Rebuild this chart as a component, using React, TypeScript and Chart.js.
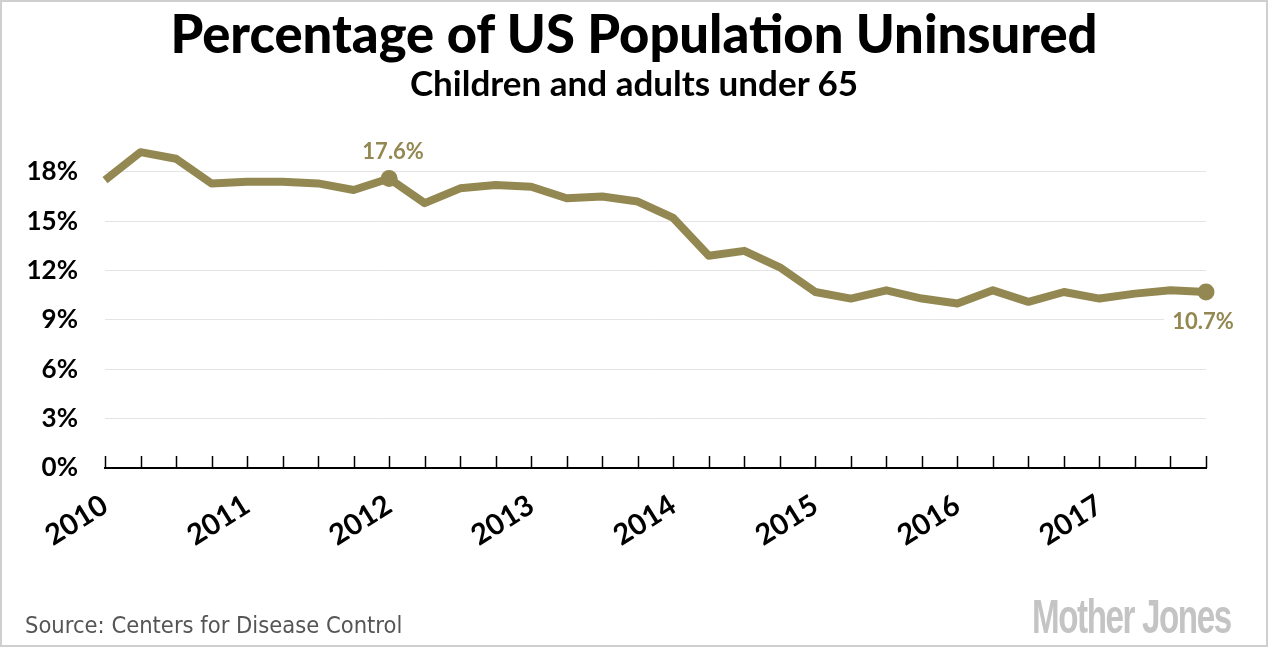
import React, { useEffect, useRef } from "react";
import { Chart, registerables } from "chart.js";

Chart.register(...registerables);

const years = ["2010", "2011", "2012", "2013", "2014", "2015", "2016", "2017"];
const quarters = ["Q1", "Q2", "Q3", "Q4"];
const uninsuredPct = [
  17.5, 19.2, 18.8, 17.3, 17.4, 17.4, 17.3, 16.9,
  17.6, 16.1, 17.0, 17.2, 17.1, 16.4, 16.5, 16.2,
  15.2, 12.9, 13.2, 12.2, 10.7, 10.3, 10.8, 10.3,
  10.0, 10.8, 10.1, 10.7, 10.3, 10.6, 10.8, 10.7,
];
const yTicks = [0, 3, 6, 9, 12, 15, 18];
const highlighted = [8, 31];

const OLIVE = "#938851";

const quarterLabels: string[] = [];
years.forEach((y) => quarters.forEach((q) => quarterLabels.push(`${y} ${q}`)));

export default function App() {
  const ref = useRef<HTMLCanvasElement | null>(null);

  useEffect(() => {
    if (!ref.current) return;

    const tickMarks = {
      id: "tickMarks",
      afterDraw(chart: any) {
        const { ctx, chartArea } = chart;
        const xs = chart.scales.x;
        ctx.save();
        ctx.strokeStyle = "#000";
        ctx.lineWidth = 1.5;
        xs.ticks.forEach((_: any, i: number) => {
          const x = Math.round(xs.getPixelForTick(i)) + 0.5;
          ctx.beginPath();
          ctx.moveTo(x, chartArea.bottom);
          ctx.lineTo(x, chartArea.bottom - 12);
          ctx.stroke();
        });
        ctx.restore();
      },
    };

    const valueLabels = {
      id: "valueLabels",
      afterDatasetsDraw(chart: any) {
        const { ctx } = chart;
        const meta = chart.getDatasetMeta(0);
        ctx.save();
        ctx.font = "bold 22px Lato";
        ctx.textAlign = "center";
        ctx.textBaseline = "middle";
        highlighted.forEach((idx, k) => {
          const pt = meta.data[idx];
          const text = `${uninsuredPct[idx].toFixed(1)}%`;
          const above = k === 0;
          const y = above ? pt.y - 27 : pt.y + 30;
          const x = above ? pt.x + 4 : pt.x - 3;
          const w = ctx.measureText(text).width;
          ctx.fillStyle = "#fff";
          ctx.fillRect(x - w / 2 - 8, y - 13, w + 16, 26);
          ctx.fillStyle = OLIVE;
          ctx.fillText(text, x, y);
        });
        ctx.restore();
      },
    };

    const chart = new Chart(ref.current, {
      type: "line",
      data: {
        labels: quarterLabels,
        datasets: [
          {
            data: uninsuredPct,
            borderColor: OLIVE,
            backgroundColor: OLIVE,
            borderWidth: 8,
            borderJoinStyle: "round",
            tension: 0,
            pointRadius: (c: any) => (highlighted.includes(c.dataIndex) ? 8.5 : 0),
            pointHoverRadius: 0,
            pointBorderWidth: 0,
            clip: false,
          } as any,
        ],
      },
      options: {
        responsive: false,
        animation: false,
        layout: { padding: { left: 0, right: 62, top: 139, bottom: 0 } },
        plugins: {
          legend: { display: false },
          tooltip: { enabled: false },
          title: { display: false },
        },
        scales: {
          x: {
            type: "category",
            offset: false,
            grid: { display: false, drawTicks: false },
            border: { display: true, color: "#000", width: 2 },
            ticks: {
              autoSkip: false,
              minRotation: 32,
              maxRotation: 32,
              padding: 20,
              color: "#000",
              font: { family: "Lato", weight: "bold", size: 29 },
              callback: (_v: any, i: number) => (i % 4 === 0 ? years[i / 4] : ""),
            },
            afterFit: (s: any) => {
              s.height = 180;
            },
          },
          y: {
            min: 0,
            max: 20,
            grid: {
              color: (c: any) => (c.tick && c.tick.value === 0 ? "rgba(0,0,0,0)" : "#e4e4e4"),
              lineWidth: 1,
              drawTicks: false,
            },
            border: { display: false },
            afterBuildTicks: (s: any) => {
              s.ticks = yTicks.map((v) => ({ value: v }));
            },
            ticks: {
              padding: 27,
              color: "#000",
              font: { family: "Lato", weight: "bold", size: 26 },
              callback: (v: any) => `${v}%`,
            },
            afterFit: (s: any) => {
              s.width = 105;
            },
          },
        },
      } as any,
      plugins: [tickMarks, valueLabels],
    });

    return () => chart.destroy();
  }, []);

  return (
    <div
      style={{
        position: "absolute",
        left: 0,
        top: 0,
        width: 1268,
        height: 647,
        boxSizing: "border-box",
        border: "2px solid #cfcfcf",
        background: "#fff",
        overflow: "hidden",
      }}
    >
      <canvas
        ref={ref}
        width={1268}
        height={648}
        style={{ position: "absolute", left: -2, top: -2, width: 1268, height: 648 }}
      />
      <div
        style={{
          position: "absolute",
          left: 0,
          width: 1264,
          top: 1,
          textAlign: "center",
          fontFamily: "Lato",
          fontWeight: 900,
          fontSize: 52.5,
          lineHeight: "60px",
          color: "#000",
        }}
      >
        Percentage of US Population Uninsured
      </div>
      <div
        style={{
          position: "absolute",
          left: 0,
          width: 1264,
          top: 58,
          textAlign: "center",
          fontFamily: "Lato",
          fontWeight: 700,
          fontSize: 35,
          lineHeight: "44px",
          color: "#000",
        }}
      >
        Children and adults under 65
      </div>
      <div
        style={{
          position: "absolute",
          left: 23,
          top: 608,
          fontFamily: "DejaVu Sans Condensed, DejaVu Sans",
          fontStretch: "condensed",
          fontSize: 23.5,
          lineHeight: "30px",
          color: "#555",
          whiteSpace: "nowrap",
        }}
      >
        Source: Centers for Disease Control
      </div>
      <div
        style={{
          position: "absolute",
          left: 1030,
          top: 588,
          fontFamily: "Liberation Sans Narrow, Liberation Sans",
          fontWeight: 700,
          fontSize: 48,
          lineHeight: "54px",
          letterSpacing: -2,
          color: "#c4c4c4",
          transform: "scaleX(0.69)",
          transformOrigin: "left top",
          whiteSpace: "nowrap",
        }}
      >
        Mother Jones
      </div>
    </div>
  );
}
